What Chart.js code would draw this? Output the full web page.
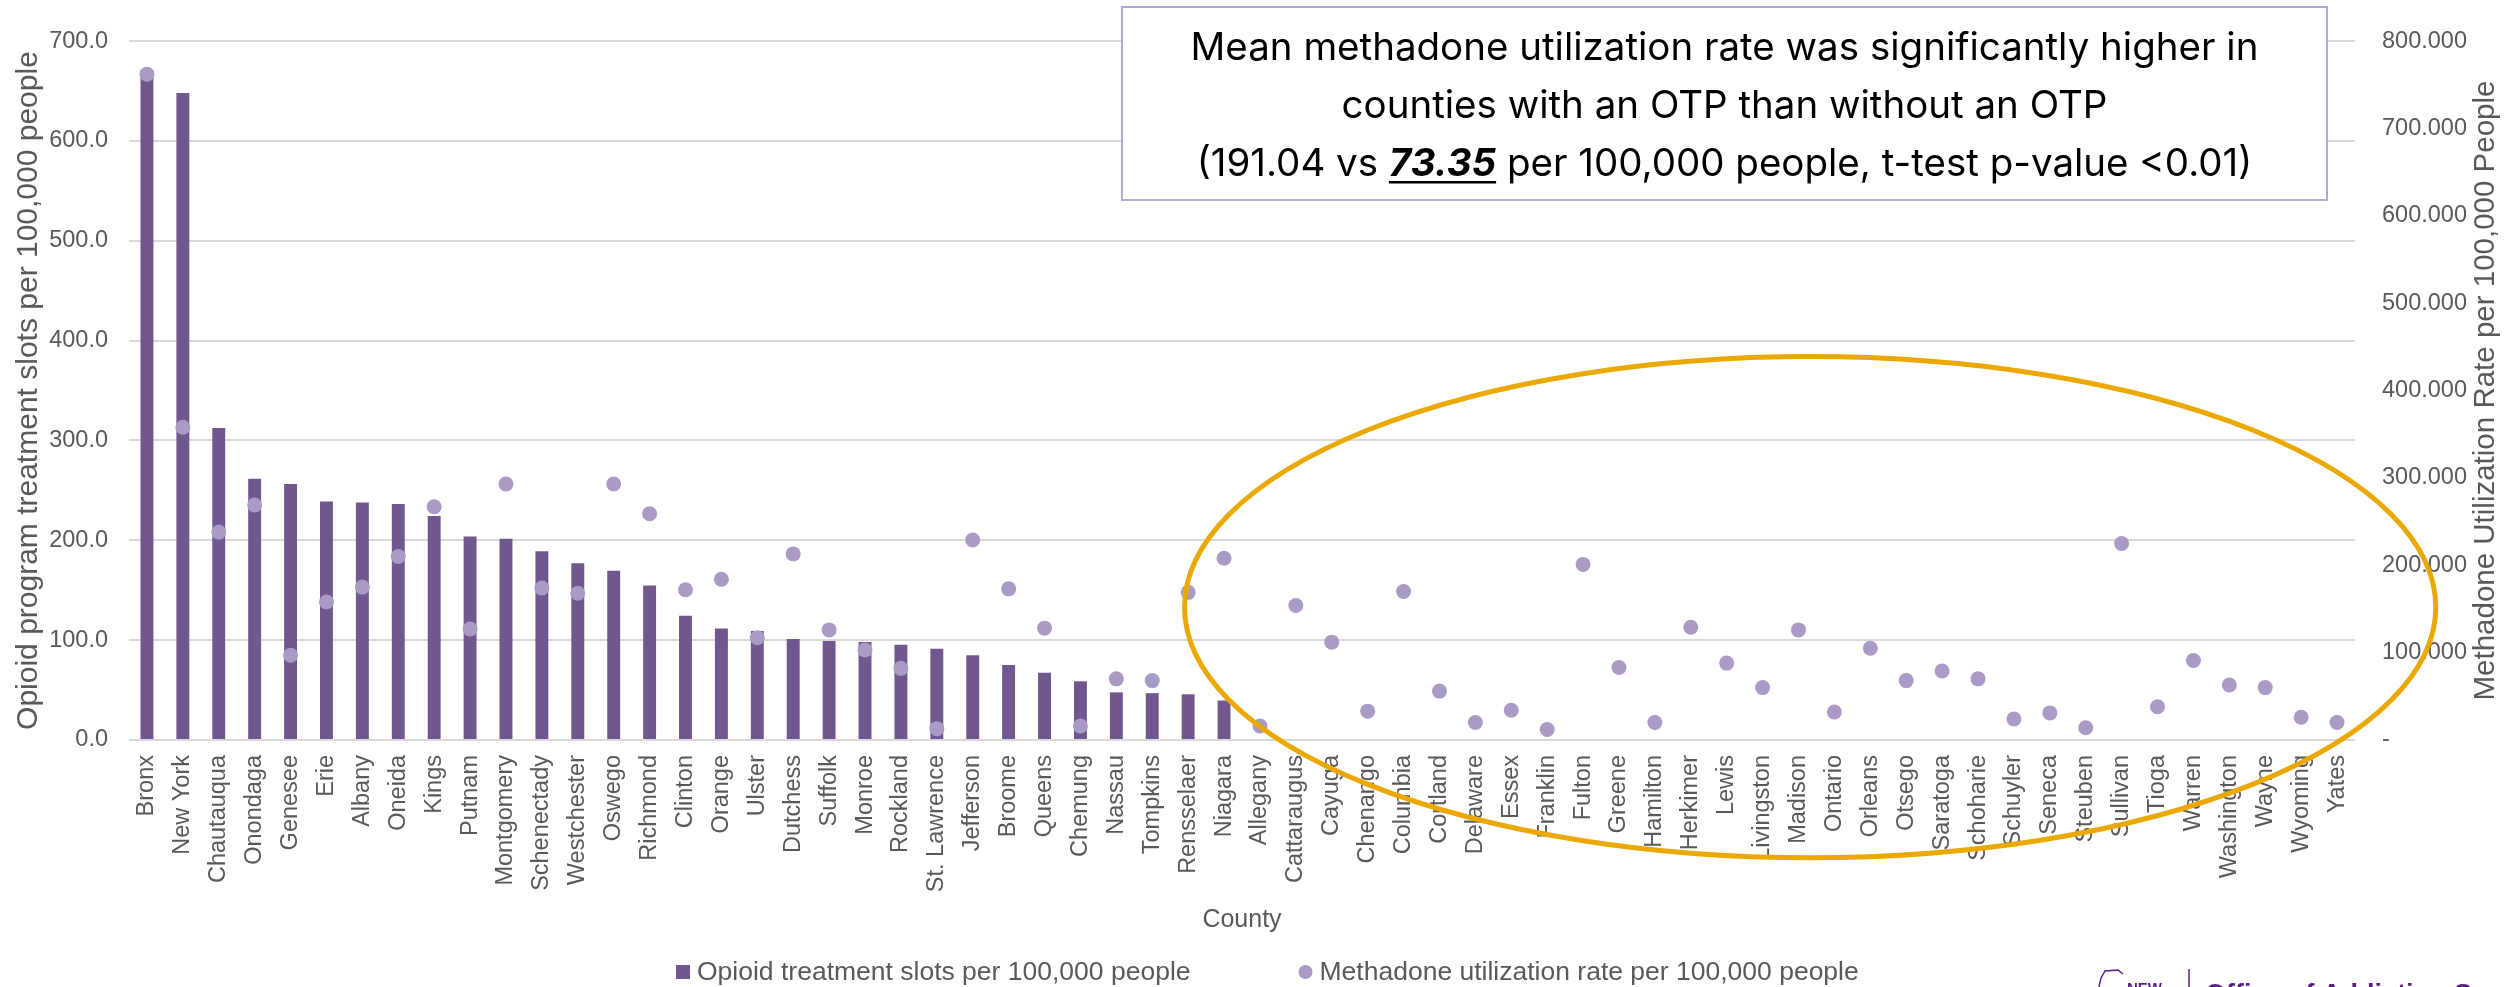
<!DOCTYPE html>
<html>
<head>
<meta charset="utf-8">
<title>Opioid treatment slots and methadone utilization by county</title>
<script src="https://cdn.jsdelivr.net/npm/chart.js@4/dist/chart.umd.min.js"></script>
<style>
  html, body { margin: 0; padding: 0; background: #ffffff; overflow: hidden; }
  #wrap { position: relative; width: 2509px; height: 987px; }
  canvas { display: block; }
</style>
</head>
<body>
<div id="wrap"><canvas id="chart" width="2509" height="987"></canvas></div>
<script>
// ---- data -------------------------------------------------------------
const counties = [
  "Bronx", "New York", "Chautauqua", "Onondaga", "Genesee", "Erie", "Albany", "Oneida",
  "Kings", "Putnam", "Montgomery", "Schenectady", "Westchester", "Oswego", "Richmond",
  "Clinton", "Orange", "Ulster", "Dutchess", "Suffolk", "Monroe", "Rockland",
  "St. Lawrence", "Jefferson", "Broome", "Queens", "Chemung", "Nassau", "Tompkins",
  "Rensselaer", "Niagara", "Allegany", "Cattaraugus", "Cayuga", "Chenango", "Columbia",
  "Cortland", "Delaware", "Essex", "Franklin", "Fulton", "Greene", "Hamilton", "Herkimer",
  "Lewis", "Livingston", "Madison", "Ontario", "Orleans", "Otsego", "Saratoga",
  "Schoharie", "Schuyler", "Seneca", "Steuben", "Sullivan", "Tioga", "Warren",
  "Washington", "Wayne", "Wyoming", "Yates"
];

// Opioid treatment program slots per 100,000 people (0 = no OTP in county)
const otpSlots = [
  671, 648, 312.5, 261.7, 256.4, 238.8, 237.8, 236.4, 224.4, 203.9, 201.5, 189.1,
  177.1, 169.5, 154.7, 124.5, 111.6, 109.2, 101.2, 99.2, 98.1, 95.4, 91.5, 85.0,
  75.0, 67.3, 58.8, 47.7, 46.9, 45.8, 39.6,
  0, 0, 0, 0, 0, 0, 0, 0, 0, 0, 0, 0, 0, 0, 0, 0, 0, 0, 0, 0, 0, 0, 0, 0, 0, 0, 0, 0, 0, 0, 0
];

// Methadone utilization rate per 100,000 people
const methadoneRate = [
  762, 358, 238, 269, 97, 158, 175, 210, 267, 127,
  293, 174, 168, 293, 259, 172, 184, 117, 213, 126,
  103, 82, 13, 229, 173, 128, 16, 70, 68, 169,
  208, 16, 154, 112, 33, 170, 56, 20, 34, 12,
  201, 83, 20, 129, 88, 60, 126, 32, 105, 68,
  79, 70, 24, 31, 14, 225, 38, 91, 63, 60,
  26, 20
];

const slotTicks = [0, 100, 200, 300, 400, 500, 600, 700];
const rateTicks = [0, 100, 200, 300, 400, 500, 600, 700, 800];

const seriesLabels = [
  "Opioid treatment slots per 100,000 people",
  "Methadone utilization rate per 100,000 people"
];
const axisTitles = {
  slots: "Opioid program treatment slots per 100,000 people",
  rate: "Methadone Utilization Rate per 100,000 People",
  county: "County"
};
const calloutLines = [
  [{ t: "Mean methadone utilization rate was significantly higher in" }],
  [{ t: "counties with an OTP than without an OTP" }],
  [
    { t: "(191.04 vs " },
    { t: "73.35", strong: true },
    { t: " per 100,000 people, t-test p-value <0.01)" }
  ]
];
// counties without an OTP, circled: category span and left-axis span
const noOtpRing = { fromIndex: 28.9, toIndex: 63.75, low: -118, high: 384 };

// ---- styling ------------------------------------------------------------
const BAR_COLOR = "#70588F";
const DOT_COLOR = "#A99BC5";
const TEXT_GREY = "#595959";
const GRID_GREY = "#D9D9D9";
const SANS = "'Liberation Sans', Arial, sans-serif";

// ---- decorations drawn over the plot -------------------------------------
const overlay = {
  id: "overlay",
  afterDraw(chart) {
    const ctx = chart.ctx;
    const area = chart.chartArea;
    const xs = chart.scales.x;
    const ys = chart.scales.y;

    // right axis title, reading bottom-to-top
    ctx.save();
    ctx.translate(2486, (area.top + area.bottom) / 2);
    ctx.rotate(-Math.PI / 2);
    ctx.font = "29.5px " + SANS;
    ctx.fillStyle = TEXT_GREY;
    ctx.textAlign = "center";
    ctx.textBaseline = "middle";
    ctx.fillText(axisTitles.rate, 0, 0);
    ctx.restore();

    // legend
    ctx.save();
    ctx.font = "26.5px " + SANS;
    ctx.textBaseline = "middle";
    ctx.textAlign = "left";
    const ly = 972;
    let lx = 676;
    ctx.fillStyle = BAR_COLOR;
    ctx.fillRect(lx, ly - 7, 14, 14);
    ctx.fillStyle = TEXT_GREY;
    ctx.fillText(seriesLabels[0], lx + 21, ly + 1);
    lx = lx + 21 + ctx.measureText(seriesLabels[0]).width + 108;
    ctx.fillStyle = DOT_COLOR;
    ctx.beginPath();
    ctx.arc(lx + 7, ly, 7, 0, Math.PI * 2);
    ctx.fill();
    ctx.fillStyle = TEXT_GREY;
    ctx.fillText(seriesLabels[1], lx + 21, ly + 1);
    ctx.restore();

    // callout box
    ctx.save();
    const bx = 1122, by = 7, bw = 1205, bh = 193;
    ctx.fillStyle = "#ffffff";
    ctx.fillRect(bx, by, bw, bh);
    ctx.strokeStyle = "#B4A7D6";
    ctx.lineWidth = 2;
    ctx.strokeRect(bx, by, bw, bh);
    const cx = bx + bw / 2;
    const baselines = [60, 118, 176];
    ctx.textBaseline = "alphabetic";
    ctx.textAlign = "left";
    ctx.fillStyle = "#000000";
    const normalFont = "38.5px Inter, " + SANS;
    const strongFont = "italic bold 38.5px Inter, " + SANS;
    calloutLines.forEach((parts, i) => {
      let total = 0;
      parts.forEach(p => {
        ctx.font = p.strong ? strongFont : normalFont;
        p.w = ctx.measureText(p.t).width;
        total += p.w;
      });
      let x = cx - total / 2;
      parts.forEach(p => {
        ctx.font = p.strong ? strongFont : normalFont;
        ctx.fillText(p.t, x, baselines[i]);
        if (p.strong) {
          ctx.fillRect(x, baselines[i] + 5, p.w, 2.5);
        }
        x += p.w;
      });
    });
    ctx.restore();

    // ring around the counties without an OTP
    ctx.save();
    const x0 = xs.getPixelForValue(noOtpRing.fromIndex);
    const x1 = xs.getPixelForValue(noOtpRing.toIndex);
    const y0 = ys.getPixelForValue(noOtpRing.high);
    const y1 = ys.getPixelForValue(noOtpRing.low);
    ctx.strokeStyle = "#EAA800";
    ctx.lineWidth = 5;
    ctx.beginPath();
    ctx.ellipse((x0 + x1) / 2, (y0 + y1) / 2, (x1 - x0) / 2, (y1 - y0) / 2, 0, 0, Math.PI * 2);
    ctx.stroke();
    ctx.restore();

    // agency mark along the bottom edge
    ctx.save();
    const purple = "#5B1F82";
    ctx.strokeStyle = purple;
    ctx.fillStyle = purple;
    ctx.lineWidth = 1.5;
    ctx.beginPath();
    ctx.moveTo(2099, 987);
    ctx.lineTo(2101, 978);
    ctx.lineTo(2105, 971);
    ctx.lineTo(2118, 970);
    ctx.lineTo(2123, 974);
    ctx.stroke();
    ctx.beginPath();
    ctx.moveTo(2189, 969);
    ctx.lineTo(2189, 987);
    ctx.stroke();
    ctx.font = "bold 15px " + SANS;
    ctx.textBaseline = "alphabetic";
    ctx.fillText("NEW", 2127, 993);
    ctx.font = "bold 27px " + SANS;
    ctx.fillText("Office of Addiction Services and Supports", 2205, 1003);
    ctx.restore();
  }
};

// ---- chart ----------------------------------------------------------------
const tickFont = { family: SANS, size: 23.5 };

new Chart(document.getElementById("chart"), {
  data: {
    labels: counties,
    datasets: [
      {
        type: "line",
        label: seriesLabels[1],
        data: methadoneRate,
        yAxisID: "y1",
        showLine: false,
        pointRadius: 7.5,
        pointHoverRadius: 7.5,
        pointBorderWidth: 0,
        pointBackgroundColor: DOT_COLOR,
        backgroundColor: DOT_COLOR,
        order: 0
      },
      {
        type: "bar",
        label: seriesLabels[0],
        data: otpSlots,
        yAxisID: "y",
        backgroundColor: BAR_COLOR,
        borderWidth: 0,
        barPercentage: 0.36,
        categoryPercentage: 1.0,
        order: 1
      }
    ]
  },
  options: {
    responsive: false,
    animation: false,
    devicePixelRatio: 1,
    layout: { padding: { top: 30, left: 0, right: 0, bottom: 0 } },
    plugins: {
      legend: { display: false },
      tooltip: { enabled: false }
    },
    scales: {
      x: {
        type: "category",
        offset: true,
        grid: { display: false, drawTicks: false },
        border: { display: false },
        ticks: {
          autoSkip: false,
          minRotation: 90,
          maxRotation: 90,
          padding: 15,
          color: TEXT_GREY,
          font: tickFont
        },
        title: {
          display: true,
          text: axisTitles.county,
          color: TEXT_GREY,
          font: { family: SANS, size: 25 },
          padding: { top: 0, bottom: 52 }
        },
        afterFit(scale) { scale.height = 247; }
      },
      y: {
        position: "left",
        min: 0,
        max: 700,
        afterBuildTicks(scale) { scale.ticks = slotTicks.map(v => ({ value: v })); },
        grid: { color: GRID_GREY, lineWidth: 2, drawTicks: false },
        border: { display: false },
        ticks: {
          padding: 21,
          color: TEXT_GREY,
          font: tickFont,
          callback: v => Number(v).toFixed(1)
        },
        title: {
          display: true,
          text: axisTitles.slots,
          color: TEXT_GREY,
          font: { family: SANS, size: 30 },
          padding: { top: 11, bottom: 0 }
        },
        afterFit(scale) { scale.width = 129; }
      },
      y1: {
        position: "right",
        min: 0,
        max: 800,
        afterBuildTicks(scale) { scale.ticks = rateTicks.map(v => ({ value: v })); },
        grid: { drawOnChartArea: false, drawTicks: false },
        border: { display: false },
        ticks: {
          padding: 27,
          color: TEXT_GREY,
          font: tickFont,
          callback: v => (v === 0 ? "-" : Number(v).toFixed(3))
        },
        afterFit(scale) { scale.width = 154; }
      }
    }
  },
  plugins: [overlay]
});
</script>
</body>
</html>
